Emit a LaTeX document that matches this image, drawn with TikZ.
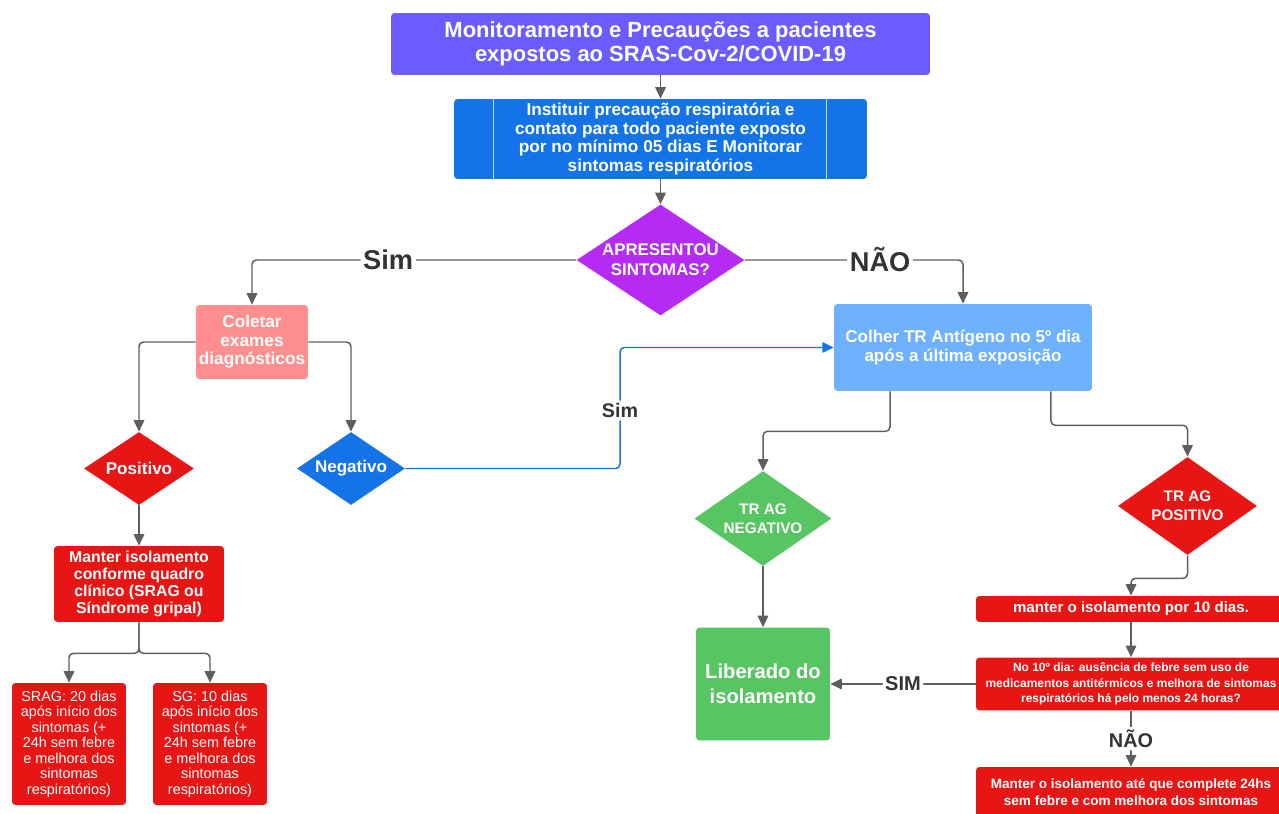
\documentclass[tikz,border=0pt]{standalone}
\usepackage{fontspec}
\setmainfont{Liberation Sans}
\usetikzlibrary{shapes.geometric,arrows.meta}
\definecolor{roxo}{HTML}{6B5CFF}
\definecolor{azul}{HTML}{1473E6}
\definecolor{lilas}{HTML}{B52BF4}
\definecolor{salmao}{HTML}{FF8F8F}
\definecolor{vermelho}{HTML}{E81515}
\definecolor{azulclaro}{HTML}{6DB1FF}
\definecolor{verde}{HTML}{57C561}
\definecolor{linha}{HTML}{5E5E5E}
\definecolor{rotulo}{HTML}{333333}

\begin{document}
\begin{tikzpicture}[x=0.02cm,y=-0.02cm,
    caixa/.style={rectangle,rounded corners=2pt,text=white,align=center,inner sep=0pt},
    losango/.style={diamond,inner sep=0pt},
    txt/.style={text=white,align=center,inner sep=0pt},
    seta/.style={draw=linha,line width=0.85pt,rounded corners=2.5pt,-{Triangle[length=6.5pt,width=6pt]}},
    rot/.style={fill=white,text=rotulo,inner sep=1.5pt}]
        \useasboundingbox (0,0) rectangle (1279,814);
        % topo
        \node[caixa,fill=roxo,minimum width=10.78cm,minimum height=1.24cm,
            font=\bfseries\fontsize{12.5}{13.3}\selectfont] (titulo) at (660.5,44)
            {Monitoramento e Precauções a pacientes\\expostos ao SRAS-Cov-2/COVID-19};
        \node[caixa,fill=azul,minimum width=8.26cm,minimum height=1.6cm,
            font=\bfseries\fontsize{9.8}{10.5}\selectfont] (inst) at (660.5,139)
            {Instituir precaução respiratória e\\contato para todo paciente exposto\\por no mínimo 05 dias E Monitorar\\sintomas respiratórios};
        \draw[white!75!azul,line width=0.8pt] ([xshift=0.8cm]inst.north west) -- ([xshift=0.8cm]inst.south west);
        \draw[white!75!azul,line width=0.8pt] ([xshift=-0.82cm]inst.north east) -- ([xshift=-0.82cm]inst.south east);
        \node[losango,fill=lilas,minimum width=3.36cm,minimum height=2.22cm] (sint) at (660.5,260) {};
        \node[txt,font=\bfseries\fontsize{9.6}{11.4}\selectfont] (sint-t) at (sint) {APRESENTOU\\SINTOMAS?};
        % lado esquerdo
        \node[caixa,fill=salmao,minimum width=2.24cm,minimum height=1.48cm,
            font=\bfseries\fontsize{9.8}{10.5}\selectfont] (coletar) at (252,342)
            {Coletar\\exames\\diagnósticos};
        \node[losango,fill=vermelho,minimum width=2.2cm,minimum height=1.46cm] (pos) at (139,468.5) {};
        \node[txt,font=\bfseries\fontsize{9.7}{10.5}\selectfont] (pos-t) at (pos) {Positivo};
        \node[losango,fill=azul,minimum width=2.16cm,minimum height=1.46cm] (neg) at (351,468.5) {};
        \node[txt,font=\bfseries\fontsize{9.7}{10.5}\selectfont] (neg-t) at (neg) {Negativo};
        \node[caixa,fill=vermelho,minimum width=3.4cm,minimum height=1.52cm,
            font=\bfseries\fontsize{9}{9.6}\selectfont] (manter) at (139,584)
            {Manter isolamento\\conforme quadro\\clínico (SRAG ou\\Síndrome gripal)};
        \node[caixa,fill=vermelho,minimum width=2.28cm,minimum height=2.44cm,
            font=\fontsize{8.2}{8.8}\selectfont] (srag) at (69,744)
            {SRAG: 20 dias\\após início dos\\sintomas (+\\24h sem febre\\e melhora dos\\sintomas\\respiratórios)};
        \node[caixa,fill=vermelho,minimum width=2.28cm,minimum height=2.44cm,
            font=\fontsize{8.2}{8.8}\selectfont] (sg) at (210,744)
            {SG: 10 dias\\após início dos\\sintomas (+\\24h sem febre\\e melhora dos\\sintomas\\respiratórios)};
        % lado direito
        \node[caixa,fill=azulclaro,minimum width=5.16cm,minimum height=1.74cm,
            font=\bfseries\fontsize{9.7}{10.8}\selectfont] (colher) at (963,347.5)
            {Colher TR Antígeno no 5º dia\\após a última exposição};
        \node[losango,fill=verde,minimum width=2.74cm,minimum height=1.9cm] (trneg) at (763,518.5) {};
        \node[txt,font=\bfseries\fontsize{8.7}{10.8}\selectfont] (trneg-t) at (trneg) {TR AG\\NEGATIVO};
        \node[losango,fill=vermelho,minimum width=2.78cm,minimum height=1.96cm] (trpos) at (1187.5,506) {};
        \node[txt,font=\bfseries\fontsize{8.7}{10.8}\selectfont] (trpos-t) at (trpos) {TR AG\\POSITIVO};
        \node[caixa,fill=verde,minimum width=2.68cm,minimum height=2.26cm,
            font=\bfseries\fontsize{11.5}{14}\selectfont] (liberado) at (763,684)
            {Liberado do\\isolamento};
        \node[caixa,fill=vermelho,minimum width=6.2cm,minimum height=0.52cm,
            font=\bfseries\fontsize{8.6}{9.5}\selectfont] (manter10) at (1131,609)
            {manter o isolamento por 10 dias.};
        \node[caixa,fill=vermelho,minimum width=6.2cm,minimum height=1.06cm,
            font=\bfseries\fontsize{6.8}{8.7}\selectfont] (dia10) at (1131,684)
            {No 10º dia: ausência de febre sem uso de\\medicamentos antitérmicos e melhora de sintomas\\respiratórios há pelo menos 24 horas?};
        \node[caixa,fill=vermelho,minimum width=6.2cm,minimum height=1.0cm,
            font=\bfseries\fontsize{7.7}{9.6}\selectfont] (final) at (1131,792)
            {Manter o isolamento até que complete 24hs\\sem febre e com melhora dos sintomas};
        % setas
        \draw[seta] (titulo.south) -- (inst.north);
        \draw[seta] (inst.south) -- (sint.north);
        \draw[seta] (sint.west) -| (coletar.north)
            node[rot,pos=0.29,font=\bfseries\fontsize{15.5}{16}\selectfont] {Sim};
        \draw[seta] (sint.east) -| (colher.north)
            node[rot,pos=0.31,font=\bfseries\fontsize{15.5}{16}\selectfont] {NÃO};
        \draw[seta] (coletar.west) -| (pos.north);
        \draw[seta] (coletar.east) -| (neg.north);
        \draw[seta] (pos.south) -- (manter.north);
        \draw[seta] (manter.south) -- ++(0,31) -| (srag.north);
        \draw[seta] (manter.south) -- ++(0,31) -| (sg.north);
        \coordinate (dobra) at (620,468.5);
        \draw[seta,draw=azul] (neg.east) -- (dobra) |- (colher.west)
            node[rot,pos=0.24,font=\bfseries\fontsize{11.2}{12}\selectfont] {Sim};
        \draw[seta] ([xshift=-1.46cm]colher.south) -- ++(0,40) -| (trneg.north);
        \draw[seta] ([xshift=1.76cm]colher.south) -- ++(0,34) -| (trpos.north);
        \draw[seta] (trneg.south) -- (liberado.north);
        \draw[seta] (trpos.south) -- ++(0,23) -| (manter10.north);
        \draw[seta] (manter10.south) -- (dia10.north);
        \draw[seta] (dia10.west) -- (liberado.east)
            node[rot,midway,font=\bfseries\fontsize{11.4}{12}\selectfont] {SIM};
        \draw[seta] (dia10.south) -- (final.north)
            node[rot,midway,font=\bfseries\fontsize{11.3}{12}\selectfont] {NÃO};
\end{tikzpicture}
\end{document}
